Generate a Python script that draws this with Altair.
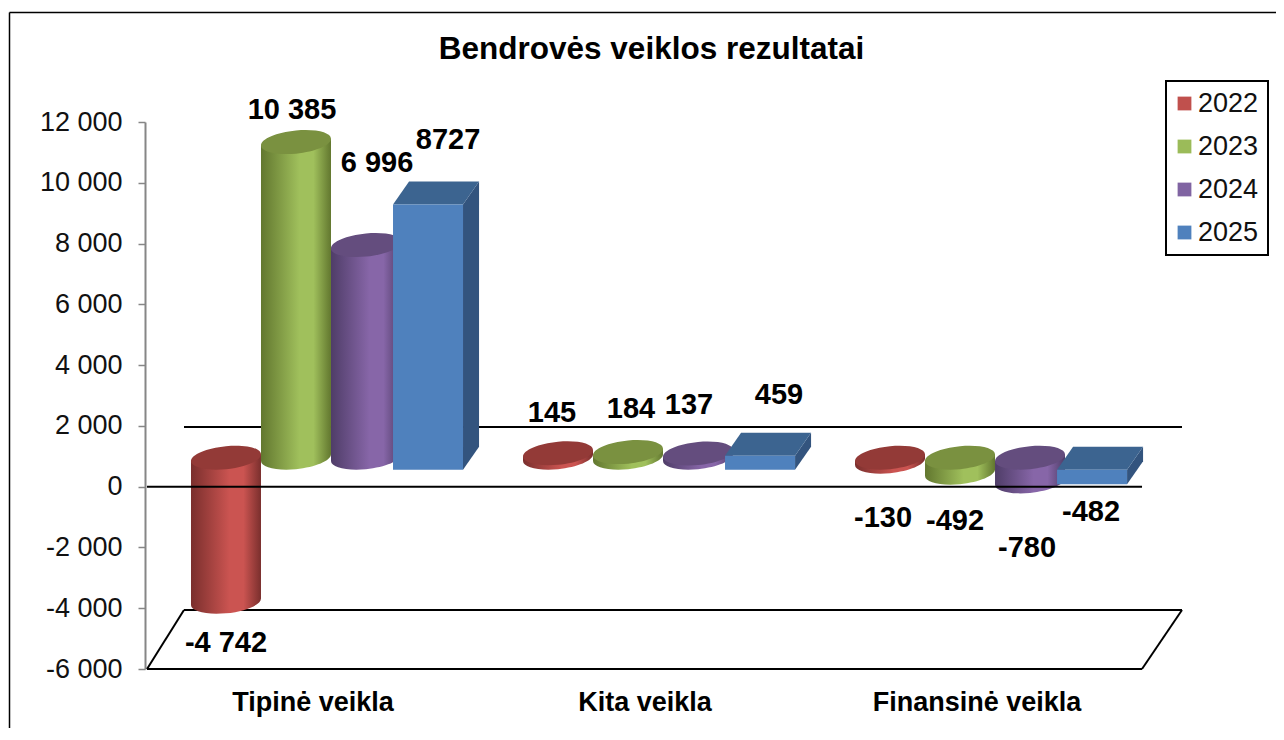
import altair as alt
import pandas as pd

# ---------- data ----------
categories = ["Tipinė veikla", "Kita veikla", "Finansinė veikla"]
years = ["2022", "2023", "2024", "2025"]
v2022 = [-4742, 145, -130]
v2023 = [10385, 184, -492]
v2024 = [6996, 137, -780]
v2025 = [8727, 459, -482]
series_values = [v2022, v2023, v2024, v2025]
label_2022 = ["-4 742", "145", "-130"]
label_2023 = ["10 385", "184", "-492"]
label_2024 = ["6 996", "137", "-780"]
label_2025 = ["8727", "459", "-482"]
series_labels = [label_2022, label_2023, label_2024, label_2025]
y_ticks = [-6000, -4000, -2000, 0, 2000, 4000, 6000, 8000, 10000, 12000]
title_text = "Bendrovės veiklos rezultatai"

# ---------- styles / layout ----------
FONT = "Liberation Sans"
W, H = 1037, 547
XDOM = [-0.657, 14.157]         # one unit = one column's width
YDOM = [-6000, 12000]
GROUP_STEP = 4.743
CAT_LABEL_SHIFT = 1.743
BOX_SHIFT = -0.114              # the box column slightly overlaps its neighbour
BOX_DX = 0.229                  # box depth along x
Y_CYL = 954                     # height of the cylinder axis plane above the zero line
Y_BOX_FRONT = 559
Y_BOX_BACK = 1316
TILT = 110                      # ellipse tilt along y
SIZE = 4900

front = ["#c0504d", "#9bbb59", "#8064a2", "#4f81bd"]
light = ["#cb5451", "#a0c05c", "#8766a8", "#4f81bd"]
edge = ["#7a2f2d", "#62772f", "#4f3d68", "#33547e"]
top = ["#933a37", "#7a9140", "#644d7e", "#3c6490"]
side = "#33547e"

# per-bar label offset in pixels [series][category]
label_dx = [[0, -6, -7], [-4, 3, -5], [11, -9, -3], [20, 19, -1]]
label_dy = [[41, -40, 56], [-32, -43, 48], [-82, -49, 67], [-52, -49, 40]]


def ellipse_path():
    b, s, k = 0.33, 0.095, 0.5523
    t = lambda x, y: f"{x:.4f},{b * y - s * x:.4f}"
    return (
        f"M{t(1, 0)} C{t(1, k)} {t(k, 1)} {t(0, 1)} C{t(-k, 1)} {t(-1, k)} {t(-1, 0)} "
        f"C{t(-1, -k)} {t(-k, -1)} {t(0, -1)} C{t(k, -1)} {t(1, -k)} {t(1, 0)} Z"
    )


ELLIPSE = ellipse_path()
xs = alt.Scale(domain=XDOM, nice=False, zero=False)
ys = alt.Scale(domain=YDOM, nice=False, zero=False)
Y_AXIS = alt.Axis(
    values=y_ticks, grid=False, tickSize=7, tickWidth=1.5, tickColor="#868686",
    domainColor="#868686", domainWidth=2, labelFontSize=27, labelFont=FONT,
    labelColor="#111111", labelPadding=16, title=None,
    labelExpr="replace(replace(format(datum.value, ','), ',', ' '), '\u2212', '-')",
)
X = lambda f="x": alt.X(f"{f}:Q", scale=xs, axis=None)
Y = lambda f="y": alt.Y(f"{f}:Q", scale=ys, axis=Y_AXIS)


def grad(i):
    return {
        "gradient": "linear", "x1": 0, "x2": 1, "y1": 0, "y2": 0,
        "stops": [
            {"offset": 0, "color": edge[i]},
            {"offset": 0.55, "color": light[i]},
            {"offset": 0.75, "color": light[i]},
            {"offset": 1, "color": edge[i]},
        ],
    }


def seg(x1, y1, x2=None, y2=None, color="#000000", width=2):
    x2 = x1 if x2 is None else x2
    y2 = y1 if y2 is None else y2
    return alt.Chart(pd.DataFrame({"a": [0]})).mark_rule(color=color, strokeWidth=width).encode(
        x=alt.value(x1), x2=alt.value(x2), y=alt.value(y1), y2=alt.value(y2)
    )


def ellipse(cx, cy, fill):
    return alt.Chart(pd.DataFrame({"x": [cx], "y": [cy]})).mark_point(
        shape=ELLIPSE, size=SIZE, filled=True, fill=fill, strokeWidth=0, opacity=1
    ).encode(x=X(), y=Y())


def cylinder(i, left, v):
    cx = left + 0.5
    a, b = max(v, 0) + Y_CYL, min(v, 0) + Y_CYL
    body = alt.Chart(pd.DataFrame({
        "x": [left, left + 1],
        "y": [a - TILT, a + TILT],
        "y2": [b - TILT, b + TILT],
    })).mark_area(fill=grad(i), opacity=1).encode(x=X(), y=Y(), y2="y2:Q")
    return [ellipse(cx, b, grad(i)), body, ellipse(cx, a, top[i])]


def box(i, left, v):
    a, b = max(v, 0), min(v, 0)
    f1, d = Y_BOX_FRONT, Y_BOX_BACK
    x0, x1 = left, left + 1
    faces = []
    faces.append(alt.Chart(pd.DataFrame({
        "x": [x1, x1 + BOX_DX], "y": [a + f1, a + d], "y2": [b + f1, b + d],
    })).mark_area(color=side, opacity=1).encode(x=X(), y=Y(), y2="y2:Q"))
    faces.append(alt.Chart(pd.DataFrame({
        "x": [x0, x0 + BOX_DX, x1, x1 + BOX_DX],
        "y": [a + f1, a + d, a + d, a + d],
        "y2": [a + f1, a + f1, a + f1, a + d],
    })).mark_area(color=top[i], opacity=1).encode(x=X(), y=Y(), y2="y2:Q"))
    faces.append(alt.Chart(pd.DataFrame({
        "x": [x0], "x2": [x1], "y": [a + f1], "y2": [b + f1],
    })).mark_rect(color=front[i], opacity=1).encode(x=X(), x2="x2:Q", y=Y(), y2="y2:Q"))
    return faces


layers = []

# y axis + legend carrier, sits underneath everything
legend_df = pd.DataFrame({"x": [1.5] * 4, "y": [3000] * 4, "Year": years})
layers.append(
    alt.Chart(legend_df).mark_square(size=1, opacity=1).encode(
        x=X(),
        y=Y(),
        color=alt.Color("Year:N", scale=alt.Scale(domain=years, range=front), legend=alt.Legend(
            title=None, orient="none", legendX=1021, legendY=-41, symbolType="square",
            symbolSize=190, symbolStrokeWidth=0, labelFontSize=27, labelFont=FONT,
            labelColor="#111111", rowPadding=15, padding=9, strokeColor="#000000",
            labelOffset=0, symbolOffset=-4, symbolOpacity=1, fillColor="#ffffff",
        )),
    )
)

# back wall and floor
layers += [
    seg(39, 305, 1037, color="#000000"),                 # back wall line
    seg(39, 488, 1037),                                  # floor back edge
    seg(2, 547, 997),                                    # floor front edge
    seg(2, 547, 39, 488),                                # floor left edge
    seg(997, 547, 1037, 488),                            # floor right edge
]

# columns
for c in range(len(categories)):
    start = c * GROUP_STEP
    for i in range(3):
        layers += cylinder(i, start + i, series_values[i][c])
    layers += box(3, start + 3 + BOX_SHIFT, series_values[3][c])

# zero line in front of the columns
layers.append(
    alt.Chart(pd.DataFrame({"x": [-0.629], "x2": [13.586], "y": [0]})).mark_rule(
        color="#000000", strokeWidth=2
    ).encode(x=X(), x2="x2:Q", y=Y())
)

# value labels
for i in range(4):
    for c in range(3):
        v = series_values[i][c]
        shift = BOX_SHIFT if i == 3 else 0
        layers.append(
            alt.Chart(pd.DataFrame({
                "x": [c * GROUP_STEP + i + shift + 0.5],
                "y": [v + Y_CYL],
                "t": [series_labels[i][c]],
            })).mark_text(
                font=FONT, fontSize=29, fontWeight="bold", color="#000000", baseline="middle",
                align="center", dx=label_dx[i][c], dy=label_dy[i][c],
            ).encode(x=X(), y=Y(), text="t:N")
        )

# category labels
layers.append(
    alt.Chart(pd.DataFrame({
        "x": [c * GROUP_STEP + CAT_LABEL_SHIFT for c in range(3)],
        "t": categories,
    })).mark_text(
        font=FONT, fontSize=27, fontWeight="bold", color="#000000", baseline="middle", align="center",
    ).encode(x=X(), y=alt.value(581), text="t:N")
)

# outer chart frame
layers += [
    seg(-135.5, -109.5, 1131, width=1.5),
    seg(-135.5, -109.5, -135.5, 606, width=1.5),
]

chart = alt.layer(*layers).properties(
    width=W, height=H,
    padding={"left": 137, "top": 114, "right": 94, "bottom": 63},
    autosize=alt.AutoSizeParams(type="none"),
    title=alt.TitleParams(
        title_text, font=FONT, fontSize=31.5, fontWeight="bold", color="#000000",
        anchor="middle", dx=-12, offset=-54,
    ),
).configure_view(stroke=None).configure_legend(strokeWidth=2)

chart.save("out.html", embed_options={"renderer": "svg", "actions": False})
